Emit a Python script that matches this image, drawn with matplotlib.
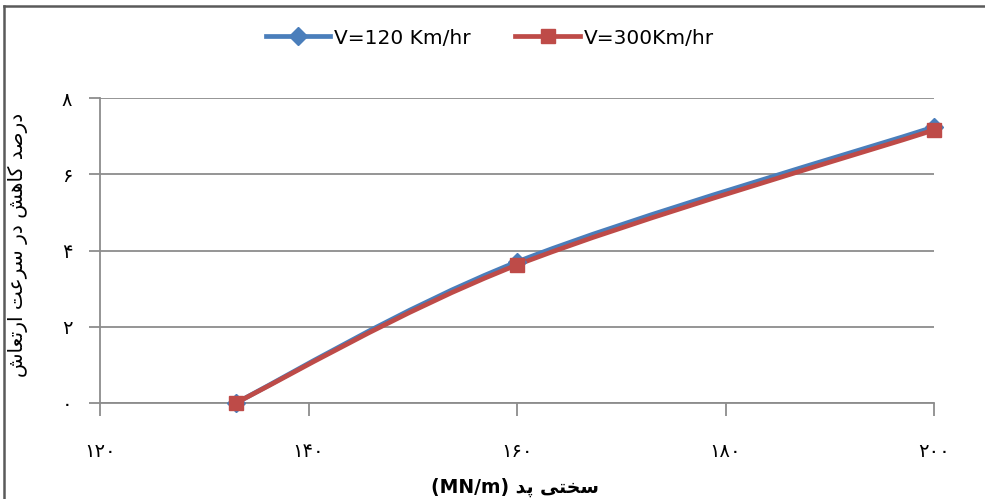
import numpy as np
import matplotlib
matplotlib.use("Agg")
from matplotlib import pyplot as plt
from matplotlib.path import Path
from matplotlib.patches import PathPatch
from matplotlib.lines import Line2D

# data
stiffness = [133, 160, 200]
v120 = [0.0, 3.70, 7.24]
v300 = [0.0, 3.62, 7.16]
series_names = ["V=120 Km/hr", "V=300Km/hr"]
xticks = [120, 140, 160, 180, 200]
xtick_labels = ["۱۲۰", "۱۴۰", "۱۶۰", "۱۸۰", "۲۰۰"]
yticks = [0, 2, 4, 6, 8]
ytick_labels = ["۰", "۲", "۴", "۶", "۸"]
ylabel_fa = "درصد کاهش در سرعت ارتعاش"
xlabel_fa = "سختی پد"
xlabel_unit = "(MN/m)"

BLUE = "#4a7ebb"
RED = "#be4b48"
GRID = "#8c8c8c"

# tiny persian shaper: (isolated, final, initial, medial); None = no forward join
FORMS = {
    "ا": ("\uFE8D", "\uFE8E", None, None),
    "د": ("\uFEA9", "\uFEAA", None, None),
    "ر": ("\uFEAD", "\uFEAE", None, None),
    "ص": ("\uFEB9", "\uFEBA", "\uFEBB", "\uFEBC"),
    "ک": ("\uFB8E", "\uFB8F", "\uFB90", "\uFB91"),
    "ه": ("\uFEE9", "\uFEEA", "\uFEEB", "\uFEEC"),
    "ش": ("\uFEB5", "\uFEB6", "\uFEB7", "\uFEB8"),
    "س": ("\uFEB1", "\uFEB2", "\uFEB3", "\uFEB4"),
    "ع": ("\uFEC9", "\uFECA", "\uFECB", "\uFECC"),
    "ت": ("\uFE95", "\uFE96", "\uFE97", "\uFE98"),
    "ی": ("\uFBFC", "\uFBFD", "\uFBFE", "\uFBFF"),
    "خ": ("\uFEA5", "\uFEA6", "\uFEA7", "\uFEA8"),
    "پ": ("\uFB56", "\uFB57", "\uFB58", "\uFB59"),
}

def shape_fa(text):
    out = []
    for i, ch in enumerate(text):
        if ch not in FORMS:
            out.append(ch)
            continue
        prev = text[i - 1] if i > 0 else ""
        nxt = text[i + 1] if i + 1 < len(text) else ""
        pj = prev in FORMS and FORMS[prev][2] is not None
        nj = FORMS[ch][2] is not None and nxt in FORMS
        f = FORMS[ch]
        if pj and nj:
            out.append(f[3])
        elif pj:
            out.append(f[1])
        elif nj:
            out.append(f[2])
        else:
            out.append(f[0])
    return "".join(out[::-1])

def smooth_path(xs, ys):
    # excel style smoothed line (catmull-rom as cubic bezier)
    p = np.column_stack([xs, ys]).astype(float)
    n = len(p)
    verts = [p[0]]
    codes = [Path.MOVETO]
    for i in range(n - 1):
        p0 = p[i - 1] if i > 0 else p[i]
        p3 = p[i + 2] if i + 2 < n else p[i + 1]
        c1 = p[i] + (p[i + 1] - p0) / 6
        c2 = p[i + 1] - (p3 - p[i]) / 6
        verts += [c1, c2, p[i + 1]]
        codes += [Path.CURVE4] * 3
    return Path(verts, codes)

plt.rcParams["font.family"] = ["DejaVu Sans"]

fig = plt.figure(figsize=(9.85, 4.99), dpi=100)
ax = fig.add_axes([100 / 985, 1 - 403 / 499, 834 / 985, 305 / 499])

for ys, col, mk, ms, name in [(v120, BLUE, "D", 9, series_names[0]),
                              (v300, RED, "s", 10, series_names[1])]:
    ax.add_patch(PathPatch(smooth_path(stiffness, ys), fill=False,
                           edgecolor=col, lw=3.4, zorder=3,
                           capstyle="round", joinstyle="round"))
    ax.plot(stiffness, ys, linestyle="none", marker=mk, ms=ms,
            color=col, zorder=4, clip_on=False)

ax.set_xlim(120, 200)
ax.set_ylim(0, 8)
ax.set_xticks(xticks)
ax.set_xticklabels(xtick_labels, fontsize=14)
ax.set_yticks(yticks)
ax.set_yticklabels(ytick_labels, fontsize=14)
ax.yaxis.grid(True, color=GRID, lw=1.3)
ax.set_axisbelow(True)
for s in ["top", "right"]:
    ax.spines[s].set_visible(False)
for s in ["left", "bottom"]:
    ax.spines[s].set_color(GRID)
    ax.spines[s].set_linewidth(1.3)
ax.tick_params(axis="x", length=9, width=1.3, color=GRID, pad=19)
ax.tick_params(axis="y", length=8, width=1.3, color=GRID, pad=12)

fig.text(18 / 985, 1 - 245 / 499, shape_fa(ylabel_fa), rotation=90,
         ha="center", va="center", fontsize=14.5)
fig.text(515 / 985, 1 - 487 / 499, xlabel_unit + " " + shape_fa(xlabel_fa),
         ha="center", va="center", fontsize=13.5, fontweight="bold")

handles = [Line2D([], [], color=BLUE, lw=3.4, marker="D", ms=9),
           Line2D([], [], color=RED, lw=3.4, marker="s", ms=10)]
fig.legend(handles, series_names, loc="center", ncol=2, frameon=False,
           bbox_to_anchor=(490 / 985, 1 - 38 / 499), fontsize=14.5,
           handlelength=3.2, columnspacing=2.2, handletextpad=0.2)

# frame around the chart (top and left edges visible)
fig.add_artist(Line2D([4 / 985, 1], [1 - 6 / 499, 1 - 6 / 499],
                      color="#5a5a5a", lw=1.8))
fig.add_artist(Line2D([4 / 985, 4 / 985], [0, 1 - 6 / 499],
                      color="#5a5a5a", lw=1.8))

fig.savefig("out.png", dpi=100)
